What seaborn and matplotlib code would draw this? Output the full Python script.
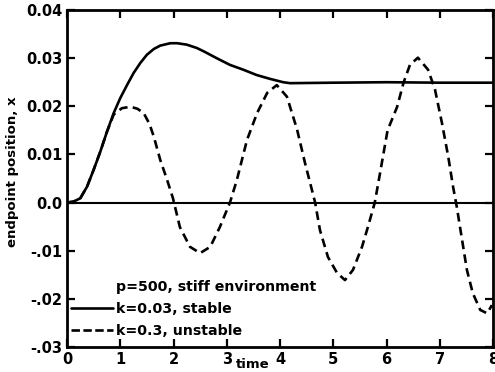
import matplotlib
matplotlib.use("Agg")
import matplotlib.pyplot as plt
import seaborn as sns
import pandas as pd
from matplotlib.lines import Line2D

# ---- data ----
t_stable = [0.0, 0.125, 0.25, 0.376, 0.50, 0.626, 0.75, 0.877, 1.00, 1.127,
            1.25, 1.377, 1.50, 1.63, 1.75, 1.94, 2.07, 2.25, 2.44, 2.57, 2.81,
            3.06, 3.31, 3.56, 3.81, 4.06, 4.19, 5.00, 6.00, 7.00, 8.00]
x_stable = [0.0, 0.0002, 0.0009, 0.0033, 0.0068, 0.0106, 0.0147, 0.0186,
            0.0217, 0.0244, 0.0269, 0.0290, 0.0307, 0.0319, 0.0326, 0.0331,
            0.0331, 0.0328, 0.0321, 0.0314, 0.0300, 0.0286, 0.0276, 0.0265,
            0.0257, 0.0250, 0.0248, 0.0249, 0.0250, 0.0249, 0.0249]

t_unstable = [0.0, 0.125, 0.25, 0.376, 0.50, 0.626, 0.75, 0.877, 1.03, 1.19,
              1.32, 1.44, 1.55, 1.63, 1.75, 1.88, 1.99, 2.12, 2.31, 2.50, 2.69,
              2.87, 3.06, 3.19, 3.38, 3.57, 3.76, 3.94, 4.13, 4.32, 4.47, 4.60,
              4.66, 4.75, 4.90, 5.07, 5.22, 5.37, 5.54, 5.65, 5.78, 5.88, 6.02,
              6.20, 6.32, 6.44, 6.59, 6.78, 6.91, 7.04, 7.16, 7.25, 7.32, 7.42,
              7.51, 7.62, 7.76, 7.89, 7.98]
x_unstable = [0.0, 0.0002, 0.0009, 0.0033, 0.0068, 0.0106, 0.0147, 0.0183,
              0.0196, 0.0199, 0.0195, 0.0186, 0.0163, 0.0137, 0.0089, 0.0047,
              0.0009, -0.0051, -0.0092, -0.0105, -0.0092, -0.0051, 0.0, 0.0047,
              0.0130, 0.0186, 0.0228, 0.0244, 0.0220, 0.0152, 0.0082, 0.0026,
              0.0, -0.0057, -0.0113, -0.0146, -0.0161, -0.0140, -0.0092,
              -0.0051, 0.0, 0.0062, 0.0150, 0.0199, 0.0249, 0.0286, 0.0301,
              0.0276, 0.0235, 0.0166, 0.0095, 0.0033, -0.0009, -0.0078,
              -0.0140, -0.0188, -0.0223, -0.0230, -0.0213]

zero_line = 0.0
x_ticks = [0, 1, 2, 3, 4, 5, 6, 7, 8]
x_ticklabels = ["0", "1", "2", "3", "4", "5", "6", "7", "8"]
y_ticks = [-0.03, -0.02, -0.01, 0.0, 0.01, 0.02, 0.03, 0.04]
y_ticklabels = ["-.03", "-.02", "-.01", "0.0", "0.01", "0.02", "0.03", "0.04"]

legend_title = "p=500, stiff environment"
label_stable = "k=0.03, stable"
label_unstable = "k=0.3, unstable"
x_label = "time"
y_label = "endpoint position, x"

# ---- figure ----
sns.set_style("ticks")
plt.rcParams["font.family"] = ["DejaVu Sans"]
plt.rcParams["font.weight"] = "bold"
plt.rcParams["text.color"] = "black"
plt.rcParams["axes.labelcolor"] = "black"
plt.rcParams["xtick.color"] = "black"
plt.rcParams["ytick.color"] = "black"

fig = plt.figure(figsize=(4.95, 3.72), dpi=100)
ax = fig.add_axes([67 / 495, 1 - 347 / 372, 426 / 495, 337 / 372])

df_s = pd.DataFrame({"t": t_stable, "x": x_stable})
df_u = pd.DataFrame({"t": t_unstable, "x": x_unstable})

ax.axhline(zero_line, color="black", lw=1.5, zorder=1)
sns.lineplot(data=df_s, x="t", y="x", ax=ax, color="black", lw=1.9,
             sort=False, estimator=None)
sns.lineplot(data=df_u, x="t", y="x", ax=ax, color="black", lw=1.9,
             sort=False, estimator=None, dashes=False,
             linestyle=(0, (3.3, 2.0)))

ax.set_xlim(0, 8)
ax.set_ylim(-0.03, 0.04)
ax.set_xticks(x_ticks)
ax.set_xticklabels(x_ticklabels)
ax.set_yticks(y_ticks)
ax.set_yticklabels(y_ticklabels)

for s in ax.spines.values():
    s.set_visible(True)
    s.set_linewidth(2)
    s.set_color("black")

ax.tick_params(direction="in", length=6, width=1.6, top=True, right=True,
               labelsize=10.5, pad=3.5, colors="black")
for lab in ax.get_xticklabels() + ax.get_yticklabels():
    lab.set_fontweight("bold")
    lab.set_color("black")

ax.set_xlabel(x_label, fontsize=9.5, fontweight="bold", color="black")
ax.xaxis.set_label_coords(0.437, -0.032)
ax.set_ylabel(y_label, fontsize=9.5, fontweight="bold", color="black")
ax.yaxis.set_label_coords(-0.112, 0.52)

handles = [Line2D([], [], color="none"),
           Line2D([], [], color="black", lw=1.9),
           Line2D([], [], color="black", lw=1.9, linestyle=(0, (3.2, 1.3)))]
labels = [legend_title, label_stable, label_unstable]
leg = ax.legend(handles, labels, loc="lower left", bbox_to_anchor=(0, 0.016),
                frameon=False, borderaxespad=0.0, borderpad=0.25,
                handlelength=3.0, handletextpad=0.2, labelspacing=0.55,
                prop={"size": 10.2, "weight": "bold"})
for txt in leg.get_texts():
    txt.set_color("black")

fig.savefig("out.png", dpi=100)
